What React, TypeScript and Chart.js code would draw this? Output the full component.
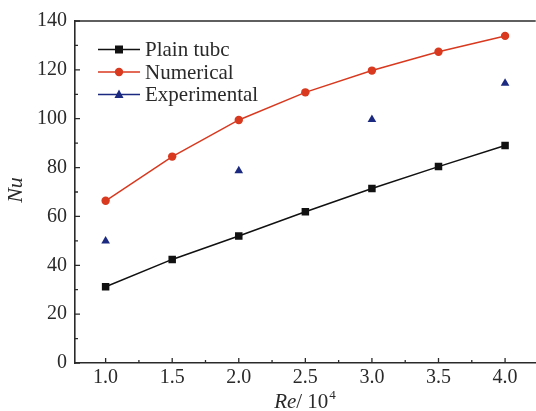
import React, { useEffect, useRef } from "react";
import { Chart, registerables } from "chart.js";

Chart.register(...registerables);

const reValues = [1.0, 1.5, 2.0, 2.5, 3.0, 3.5, 4.0];
const plainTube = [31.2, 42.4, 52.0, 61.9, 71.4, 80.4, 89.0];
const numerical = [66.4, 84.5, 99.5, 110.8, 119.7, 127.4, 133.9];
const expRe = [1.0, 2.0, 3.0, 4.0];
const experimental = [49.9, 78.7, 99.7, 114.5];
const xTicks = [1.0, 1.5, 2.0, 2.5, 3.0, 3.5, 4.0];
const xMinorTicks = [1.25, 1.75, 2.25, 2.75, 3.25, 3.75];
const yTicks = [0, 20, 40, 60, 80, 100, 120, 140];
const yMinorTicks = [10, 30, 50, 70, 90, 110, 130];
const seriesNames = ["Plain tubc", "Numerical", "Experimental"];

const BLACK = "#111111";
const RED = "#d8391f";
const BLUE = "#1b2a80";
const AXIS = "#2a2a2a";
const TEXT = "#2a2a2a";
const FONT = "'Liberation Serif', 'Times New Roman', serif";

function drawMarker(ctx: CanvasRenderingContext2D, kind: string, x: number, y: number, color: string) {
  ctx.save();
  ctx.fillStyle = color;
  ctx.beginPath();
  if (kind === "rect") {
    ctx.rect(x - 4, y - 4, 8, 8);
  } else if (kind === "circle") {
    ctx.arc(x, y, 4.2, 0, Math.PI * 2);
  } else {
    ctx.moveTo(x, y - 5);
    ctx.lineTo(x + 4.5, y + 3.5);
    ctx.lineTo(x - 4.5, y + 3.5);
    ctx.closePath();
  }
  ctx.fill();
  ctx.restore();
}

const decorPlugin = {
  id: "decor",
  afterDraw(chart: any) {
    const ctx: CanvasRenderingContext2D = chart.ctx;
    const { left, right, top, bottom } = chart.chartArea;
    const xs = chart.scales.x;
    const ys = chart.scales.y;
    ctx.save();
    // top border
    ctx.strokeStyle = AXIS;
    ctx.lineWidth = 1.6;
    ctx.beginPath();
    ctx.moveTo(left, top);
    ctx.lineTo(right, top);
    ctx.stroke();
    // ticks inward
    ctx.lineWidth = 1.3;
    ctx.beginPath();
    yTicks.forEach((v) => {
      const p = ys.getPixelForValue(v);
      ctx.moveTo(left, p);
      ctx.lineTo(left + 5, p);
    });
    yMinorTicks.forEach((v) => {
      const p = ys.getPixelForValue(v);
      ctx.moveTo(left, p);
      ctx.lineTo(left + 3, p);
    });
    xTicks.forEach((v) => {
      const p = xs.getPixelForValue(v);
      ctx.moveTo(p, bottom);
      ctx.lineTo(p, bottom - 5);
    });
    xMinorTicks.forEach((v) => {
      const p = xs.getPixelForValue(v);
      ctx.moveTo(p, bottom);
      ctx.lineTo(p, bottom - 3);
    });
    ctx.stroke();

    // legend
    const colors = [BLACK, RED, BLUE];
    const kinds = ["rect", "circle", "triangle"];
    const lx0 = 98;
    const lx1 = 140;
    const rowY = [49.5, 72, 94.5];
    ctx.font = `21px ${FONT}`;
    ctx.textBaseline = "middle";
    ctx.textAlign = "left";
    seriesNames.forEach((name, i) => {
      const y = rowY[i];
      ctx.strokeStyle = colors[i];
      ctx.lineWidth = 1.5;
      ctx.beginPath();
      ctx.moveTo(lx0, y);
      ctx.lineTo(lx1, y);
      ctx.stroke();
      drawMarker(ctx, kinds[i], (lx0 + lx1) / 2, y, colors[i]);
      ctx.fillStyle = TEXT;
      ctx.fillText(name, 145, y + 1);
    });

    // x title: Re/10^4
    ctx.fillStyle = TEXT;
    ctx.textBaseline = "alphabetic";
    const baseY = 408;
    ctx.font = `italic 21px ${FONT}`;
    const w1 = ctx.measureText("Re").width;
    ctx.font = `21px ${FONT}`;
    const w2 = ctx.measureText("/ 10").width;
    ctx.font = `13px ${FONT}`;
    const w3 = ctx.measureText("4").width;
    const total = w1 + w2 + w3 + 1;
    let x = 305 - total / 2;
    ctx.font = `italic 21px ${FONT}`;
    ctx.fillText("Re", x, baseY);
    x += w1;
    ctx.font = `21px ${FONT}`;
    ctx.fillText("/ 10", x, baseY);
    x += w2 + 1;
    ctx.font = `13px ${FONT}`;
    ctx.fillText("4", x, baseY - 9);

    // y title
    ctx.save();
    ctx.translate(16, 190);
    ctx.rotate(-Math.PI / 2);
    ctx.font = `italic 22px ${FONT}`;
    ctx.textAlign = "center";
    ctx.textBaseline = "middle";
    ctx.fillText("Nu", 0, 0);
    ctx.restore();
    ctx.restore();
  },
};

export default function App() {
  const ref = useRef<HTMLCanvasElement | null>(null);
  useEffect(() => {
    if (!ref.current) return;
    const chart = new Chart(ref.current, {
      type: "scatter",
      data: {
        datasets: [
          {
            label: seriesNames[0],
            data: reValues.map((r, i) => ({ x: r, y: plainTube[i] })),
            showLine: true,
            borderColor: BLACK,
            backgroundColor: BLACK,
            borderWidth: 1.5,
            pointStyle: "rect",
            pointRadius: 5.3,
            pointBorderWidth: 0,
          },
          {
            label: seriesNames[1],
            data: reValues.map((r, i) => ({ x: r, y: numerical[i] })),
            showLine: true,
            borderColor: RED,
            backgroundColor: RED,
            borderWidth: 1.5,
            pointStyle: "circle",
            pointRadius: 4.2,
            pointBorderWidth: 0,
          },
          {
            label: seriesNames[2],
            data: expRe.map((r, i) => ({ x: r, y: experimental[i] })),
            showLine: false,
            borderColor: BLUE,
            backgroundColor: BLUE,
            pointStyle: "triangle",
            pointRadius: 5,
            pointBorderWidth: 0,
          },
        ],
      },
      options: {
        animation: false,
        responsive: false,
        devicePixelRatio: 1,
        layout: { padding: { top: 21, left: 0, right: 0, bottom: 0 } },
        plugins: { legend: { display: false }, tooltip: { enabled: false } },
        scales: {
          x: {
            type: "linear",
            min: 0.77,
            max: 4.23,
            grid: { display: false, drawTicks: false },
            border: { display: true, color: AXIS, width: 1.6 },
            afterBuildTicks: (scale: any) => {
              scale.ticks = xTicks.map((v) => ({ value: v }));
            },
            afterFit: (scale: any) => {
              scale.height = 48;
              scale.paddingLeft = 0;
              scale.paddingRight = 0;
            },
            ticks: {
              color: TEXT,
              font: { family: FONT, size: 20 },
              padding: 3,
              maxRotation: 0,
              autoSkip: false,
              callback: (v: any) => Number(v).toFixed(1),
            },
          },
          y: {
            type: "linear",
            min: 0,
            max: 140,
            grid: { display: false, drawTicks: false },
            border: { display: true, color: AXIS, width: 1.6 },
            afterBuildTicks: (scale: any) => {
              scale.ticks = yTicks.map((v) => ({ value: v }));
            },
            afterFit: (scale: any) => {
              scale.width = 75;
              scale.paddingTop = 0;
              scale.paddingBottom = 0;
            },
            ticks: {
              color: TEXT,
              font: { family: FONT, size: 20 },
              padding: 8,
              autoSkip: false,
            },
          },
        },
      },
      plugins: [decorPlugin],
    });
    return () => chart.destroy();
  }, []);
  return (
    <div style={{ position: "absolute", left: 0, top: 0, width: 536, height: 411, overflow: "hidden", background: "#fff" }}>
      <canvas ref={ref} width={541} height={411} style={{ width: 541, height: 411, display: "block" }} />
    </div>
  );
}
